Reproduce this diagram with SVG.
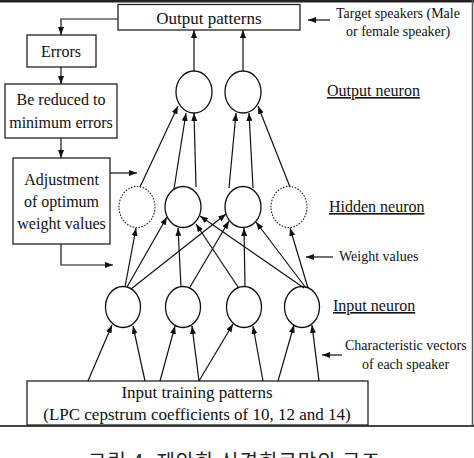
<svg xmlns="http://www.w3.org/2000/svg" width="474" height="458" viewBox="0 0 474 458">
<style>
.box{fill:#fff;stroke:#222;stroke-width:1.3}
.n{fill:#fff;stroke:#111;stroke-width:1.3}
.d{fill:#fff;stroke:#222;stroke-width:1.1;stroke-dasharray:1.6 1.4}
.t{font-family:"Liberation Serif","Times New Roman",serif;font-size:16px;fill:#111}
.bt{text-anchor:middle}
.s{font-size:14px}
.u{text-decoration:underline}
.c line,.c polyline{stroke:#111;stroke-width:1.2;fill:none;marker-end:url(#a)}
</style>
<defs>
<marker id="a" viewBox="0 0 8 6" refX="8" refY="3" markerWidth="8" markerHeight="6" markerUnits="userSpaceOnUse" orient="auto">
<path d="M0,0 L8,3 L0,6 z" fill="#111"/>
</marker>
</defs>
<rect width="474" height="458" fill="#fff"/>
<rect x="0" y="0" width="474" height="2.5" fill="#222"/>
<line x1="472.5" y1="0" x2="472.5" y2="426" stroke="#555" stroke-width="1.5"/>
<line x1="0" y1="426" x2="474" y2="426" stroke="#444" stroke-width="2"/>

<g id="output-patterns"><rect class="box" x="118" y="4.5" width="182" height="25.5"/><text class="t bt" x="209" y="24" style="font-size:17px">Output patterns</text></g>
<g id="errors"><rect class="box" x="27" y="35" width="69" height="32"/><text class="t bt" x="61" y="57">Errors</text></g>
<g id="reduced"><rect class="box" x="5" y="84" width="112" height="54"/><text class="t bt" x="61" y="105">Be reduced to</text><text class="t bt" x="61" y="128">minimum errors</text></g>
<g id="adjustment"><rect class="box" x="13" y="158" width="97" height="86"/><text class="t bt" x="61.5" y="185">Adjustment</text><text class="t bt" x="61.5" y="207">of optimum</text><text class="t bt" x="61.5" y="229">weight values</text></g>
<g id="input-patterns"><rect class="box" x="27" y="381" width="341" height="44"/><text class="t bt" x="197" y="398" style="font-size:17px">Input training patterns</text><text class="t bt" x="197" y="420" style="font-size:17px">(LPC cepstrum coefficients of 10, 12 and 14)</text></g>

<g id="out1"><ellipse class="n" cx="194" cy="92" rx="18" ry="21"/></g>
<g id="out2"><ellipse class="n" cx="243" cy="92" rx="18" ry="21"/></g>
<g id="hid1"><ellipse class="d" cx="137" cy="207" rx="18" ry="20.5"/></g>
<g id="hid2"><ellipse class="n" cx="183" cy="207" rx="18" ry="20.5"/></g>
<g id="hid3"><ellipse class="n" cx="243" cy="207" rx="18" ry="20.5"/></g>
<g id="hid4"><ellipse class="d" cx="289" cy="207" rx="18" ry="20.5"/></g>
<g id="in1"><ellipse class="n" cx="123" cy="307" rx="17.5" ry="20.5"/></g>
<g id="in2"><ellipse class="n" cx="183" cy="307" rx="17.5" ry="20.5"/></g>
<g id="in3"><ellipse class="n" cx="244" cy="307" rx="17.5" ry="20.5"/></g>
<g id="in4"><ellipse class="n" cx="302" cy="307" rx="17.5" ry="20.5"/></g>

<g id="labels">
<text class="t s" x="336" y="18">Target speakers (Male</text>
<text class="t s" x="346" y="36">or female speaker)</text>
<text class="t u" x="327" y="96">Output neuron</text>
<text class="t u" x="329" y="212">Hidden neuron</text>
<text class="t s" x="339" y="261">Weight values</text>
<text class="t u" x="333" y="311">Input neuron</text>
<text class="t s" x="345" y="350">Characteristic vectors</text>
<text class="t s" x="362" y="369">of each speaker</text>
<text x="88" y="469" style="font-family:'Noto Sans CJK KR',sans-serif;font-size:20px;letter-spacing:1px" fill="#222">그림 4. 제안한 신경회로망의 구조</text>
</g>

<g id="connectors" class="c">
<polyline points="118,19 61,19 61,35"/>
<line x1="61" y1="67" x2="61" y2="84"/>
<line x1="61" y1="138" x2="61" y2="158"/>
<line x1="110" y1="173" x2="137" y2="173"/>
<polyline points="61,244 61,265 113,265"/>
<line x1="194" y1="71" x2="194" y2="30"/>
<line x1="243" y1="71" x2="243" y2="30"/>
<line x1="140" y1="187" x2="178" y2="106"/>
<line x1="174" y1="189" x2="186" y2="113"/>
<line x1="196" y1="187" x2="194" y2="113"/>
<line x1="229" y1="188" x2="236" y2="113"/>
<line x1="253" y1="188" x2="249" y2="113"/>
<line x1="290" y1="187" x2="258" y2="106"/>
<line x1="125" y1="287" x2="136" y2="228"/>
<line x1="127" y1="287" x2="167" y2="217"/>
<line x1="131" y1="289" x2="226" y2="214"/>
<line x1="181" y1="287" x2="178" y2="228"/>
<line x1="190" y1="287" x2="229" y2="221"/>
<line x1="238" y1="287" x2="196" y2="224"/>
<line x1="245" y1="287" x2="244" y2="228"/>
<line x1="304" y1="288" x2="200" y2="216"/>
<line x1="306" y1="288" x2="256" y2="222"/>
<line x1="308" y1="288" x2="290" y2="228"/>
<line x1="88" y1="381" x2="112" y2="325"/>
<line x1="145" y1="381" x2="133" y2="326"/>
<line x1="160" y1="381" x2="175" y2="326"/>
<line x1="199" y1="381" x2="192" y2="326"/>
<line x1="199" y1="381" x2="233" y2="324"/>
<line x1="263" y1="381" x2="253" y2="326"/>
<line x1="278" y1="381" x2="294" y2="325"/>
<line x1="319" y1="381" x2="312" y2="325"/>
<line x1="330" y1="20" x2="308" y2="20"/>
<line x1="333" y1="257" x2="306" y2="257"/>
<line x1="342" y1="355" x2="322" y2="355"/>
</g>
</svg>
